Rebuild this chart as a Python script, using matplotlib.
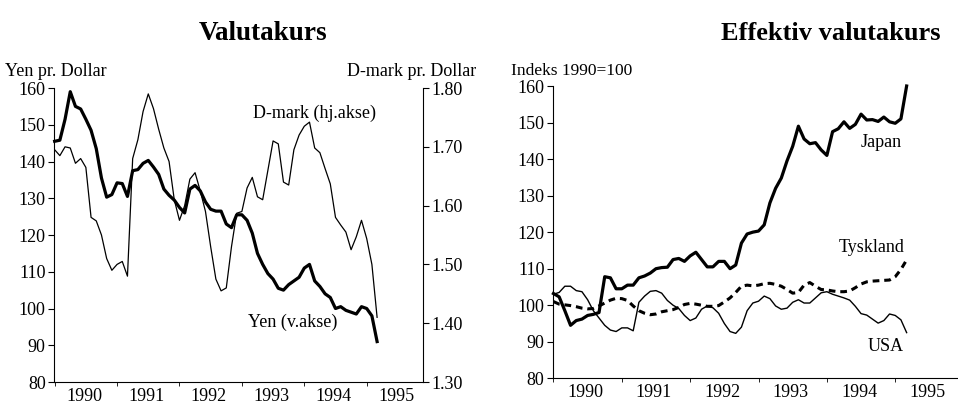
import numpy as np
import matplotlib
matplotlib.use('Agg')
import matplotlib.pyplot as plt
from matplotlib.ticker import FixedLocator, FormatStrFormatter

# monthly observations, Jan 1990 - Mar 1995
yen = [145.5, 145.8, 151.5, 159.0, 155.0, 154.3, 151.5, 148.5, 143.5, 135.5,
       130.3, 131.0, 134.2, 134.0, 130.5, 137.5, 137.8, 139.5, 140.3, 138.5,
       136.5, 132.5, 130.8, 129.5, 127.5, 126.0, 132.5, 133.5, 132.0, 129.0,
       127.0, 126.5, 126.5, 123.0, 122.0, 125.5, 125.5, 124.0, 120.5, 115.0,
       112.0, 109.5, 108.0, 105.5, 105.0, 106.5, 107.5, 108.5, 111.0, 112.0,
       107.5, 106.0, 104.0, 103.0, 100.0, 100.5, 99.5, 99.0, 98.5, 100.5,
       100.0, 98.0, 91.0]
dmark = [1.695, 1.685, 1.700, 1.698, 1.672, 1.680, 1.665, 1.580, 1.574, 1.550,
         1.510, 1.490, 1.500, 1.505, 1.480, 1.680, 1.712, 1.760, 1.790, 1.765,
         1.730, 1.698, 1.675, 1.610, 1.575, 1.600, 1.645, 1.656, 1.625, 1.590,
         1.530, 1.475, 1.455, 1.460, 1.530, 1.587, 1.590, 1.630, 1.648, 1.615,
         1.610, 1.660, 1.710, 1.705, 1.640, 1.635, 1.695, 1.720, 1.735, 1.742,
         1.698, 1.690, 1.663, 1.637, 1.580, 1.567, 1.555, 1.525, 1.547, 1.575,
         1.544, 1.500, 1.410]

japan = [103.2, 102.3, 98.5, 94.5, 95.8, 96.2, 97.2, 97.5, 98.0, 107.8,
         107.5, 104.5, 104.5, 105.5, 105.5, 107.5, 108.0, 108.8, 110.0, 110.3,
         110.4, 112.5, 112.8, 112.0, 113.5, 114.5, 112.5, 110.5, 110.5, 112.0,
         112.0, 110.0, 111.0, 117.0, 119.5, 120.0, 120.3, 122.0, 128.0, 132.0,
         134.8, 139.5, 143.5, 149.0, 145.5, 144.2, 144.5, 142.5, 141.0, 147.5,
         148.3, 150.2, 148.4, 149.5, 152.3, 150.7, 150.8, 150.3, 151.5, 150.2,
         149.8, 151.0, 160.0]
tyskland = [101.0, 100.3, 100.1, 99.9, 99.6, 99.2, 99.0, 99.1, 99.8, 100.6,
            101.4, 101.9, 101.8, 101.3, 99.8, 98.5, 97.8, 97.4, 97.6, 98.2,
            98.5, 98.8, 99.4, 100.2, 100.5, 100.3, 100.0, 99.7, 99.7, 99.9,
            100.9, 102.0, 103.5, 105.2, 105.5, 105.3, 105.5, 105.9, 106.0, 105.7,
            105.2, 104.3, 103.3, 103.5, 105.5, 106.2, 105.2, 104.3, 104.2, 103.9,
            103.7, 103.7, 103.9, 104.8, 105.8, 106.4, 106.6, 106.7, 106.8, 106.9,
            107.8, 109.8, 112.4]
usa = [103.0, 103.5, 105.2, 105.2, 104.0, 103.7, 101.5, 98.5, 96.5, 94.5,
       93.2, 92.8, 93.8, 93.8, 93.0, 100.8, 102.5, 103.8, 104.0, 103.3,
       101.3, 100.0, 99.1, 97.2, 95.8, 96.5, 98.9, 99.8, 99.3, 97.8,
       95.0, 92.8, 92.3, 94.0, 98.5, 100.6, 101.1, 102.5, 101.8, 99.8,
       98.9, 99.2, 100.8, 101.5, 100.6, 100.6, 102.0, 103.4, 103.7, 103.0,
       102.5, 102.0, 101.4, 99.7, 97.7, 97.3, 96.2, 95.1, 95.8, 97.6,
       97.2, 96.0, 92.5]

years = [1990, 1991, 1992, 1993, 1994, 1995]

plt.rcParams['font.family'] = ['Liberation Serif', 'DejaVu Serif']
plt.rcParams['font.size'] = 13

x = 1990 + np.arange(len(yen)) / 12.0

fig = plt.figure(figsize=(9.58, 4.03), dpi=100)


def style_xaxis(ax):
    ax.set_xlim(1989.99, 1995.9)
    ax.set_xticks([y + 0.47 for y in years])
    ax.set_xticklabels([str(y) for y in years])
    ax.tick_params(axis='x', which='major', length=0, pad=4)
    ax.xaxis.set_minor_locator(FixedLocator(years))
    ax.tick_params(axis='x', which='minor', length=3, direction='out')


# left panel
ax = fig.add_axes([0.0564, 0.0521, 0.385, 0.7295])
ax.plot(x, yen, color='black', lw=2.3, solid_joinstyle='round', clip_on=False)
ax.set_ylim(80, 160)
ax.set_yticks(range(80, 161, 10))
ax.tick_params(axis='y', length=4, direction='out', pad=2)
style_xaxis(ax)
ax.spines['top'].set_visible(False)
ax.spines['right'].set_visible(False)

ax2 = ax.twinx()
ax2.plot(x, dmark, color='black', lw=0.9)
ax2.set_ylim(1.30, 1.80)
ax2.set_yticks(np.arange(1.30, 1.81, 0.10))
ax2.yaxis.set_major_formatter(FormatStrFormatter('%.2f'))
ax2.tick_params(axis='y', length=4, direction='out', pad=2)
ax2.spines['top'].set_visible(False)
ax2.spines['left'].set_visible(False)
ax2.spines['bottom'].set_visible(False)

ax.text(1993.18, 153.2, 'D-mark (hj.akse)', va='center', ha='left')
ax.text(1993.10, 96.3, 'Yen (v.akse)', va='center', ha='left')

# right panel
bx = fig.add_axes([0.577, 0.0613, 0.4217, 0.7253])
bx.plot(x, japan, color='black', lw=2.3, solid_joinstyle='round', clip_on=False)
bx.plot(x, tyskland, color='black', lw=2.2, dashes=(2.2, 1.6))
bx.plot(x, usa, color='black', lw=1.0)
bx.set_ylim(80, 160)
bx.set_yticks(range(80, 161, 10))
bx.tick_params(axis='y', length=4, direction='out', pad=2)
style_xaxis(bx)
bx.spines['top'].set_visible(False)
bx.spines['right'].set_visible(False)

bx.text(1995.10, 144.4, 'Japan', va='center', ha='right')
bx.text(1995.13, 115.7, 'Tyskland', va='center', ha='right')
bx.text(1995.13, 88.6, 'USA', va='center', ha='right')

# titles and axis captions
fig.text(263 / 958, 1 - 33 / 403, 'Valutakurs', ha='center', va='center',
         fontsize=19.5, fontweight='bold')
fig.text(831 / 958, 1 - 33 / 403, 'Effektiv valutakurs', ha='center', va='center',
         fontsize=19, fontweight='bold')
fig.text(5 / 958, 1 - 71 / 403, 'Yen pr. Dollar', ha='left', va='center')
fig.text(476 / 958, 1 - 71 / 403, 'D-mark pr. Dollar', ha='right', va='center')
fig.text(511 / 958, 1 - 71 / 403, 'Indeks 1990=100', ha='left', va='center',
         fontsize=12.5)

fig.savefig('out.png', dpi=100)
